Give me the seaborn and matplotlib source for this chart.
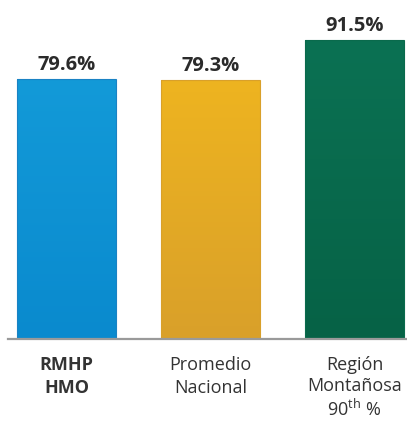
import numpy as np
import pandas as pd
import matplotlib
matplotlib.use("Agg")
import matplotlib.pyplot as plt
import seaborn as sns
from matplotlib.colors import LinearSegmentedColormap

categories = ["RMHP\nHMO", "Promedio\nNacional", "Región\nMontañosa\n90$^{\\mathrm{th}}$ %"]
values = [79.6, 79.3, 91.5]
value_labels = ["79.6%", "79.3%", "91.5%"]
top_colors = ["#139AD8", "#EEB420", "#0B7153"]
bottom_colors = ["#0A8ACE", "#D9A02A", "#066246"]
edge_colors = ["#1A82C4", "#D9A02A", "#0A6A4C"]

sns.set_style("white")
plt.rcParams["font.family"] = ["Open Sans", "DejaVu Sans"]
plt.rcParams["mathtext.fontset"] = "custom"
plt.rcParams["mathtext.rm"] = "Open Sans"
plt.rcParams["mathtext.it"] = "Open Sans:italic"
plt.rcParams["mathtext.bf"] = "Open Sans:bold"

df = pd.DataFrame({"cat": categories, "val": values})

fig = plt.figure(figsize=(4.07, 4.21), dpi=100)
ax = fig.add_axes([8 / 407, 82 / 421, 1 - 8 / 407, 1 - 82 / 421])

sns.barplot(data=df, x="cat", y="val", hue="cat", palette=top_colors,
            width=99 / 144, legend=False, ax=ax, linewidth=0.8)

bars = sorted([p for p in ax.patches], key=lambda p: p.get_x())
for p, tc, bc, ec, lab in zip(bars, top_colors, bottom_colors, edge_colors, value_labels):
    x0, w, h = p.get_x(), p.get_width(), p.get_height()
    cmap = LinearSegmentedColormap.from_list("g", [bc, tc])
    grad = np.linspace(0, 1, 256).reshape(-1, 1)
    im = ax.imshow(grad, cmap=cmap, aspect="auto", origin="lower",
                   extent=(x0, x0 + w, 0, h), zorder=p.get_zorder() + 0.1)
    im.set_clip_path(p)
    p.set_edgecolor(ec)
    p.set_facecolor("none")
    p.set_zorder(p.get_zorder() + 0.2)
    ax.annotate(lab, xy=(x0 + w / 2, h), xytext=(0, 6.5), textcoords="offset points",
                ha="center", va="baseline", fontsize=14.5, fontweight="bold",
                color="#2b2b2b")

ax.set_xlim(-0.406, 2.365)
ax.set_ylim(0, 103.7)
ax.set_xlabel("")
ax.set_ylabel("")
ax.set_yticks([])
for s in ["top", "left", "right"]:
    ax.spines[s].set_visible(False)
ax.spines["bottom"].set_color("#9a9a9a")
ax.spines["bottom"].set_linewidth(1.6)
ax.tick_params(axis="x", length=0, pad=12, labelsize=13, labelcolor="#333333")
for i, t in enumerate(ax.get_xticklabels()):
    t.set_linespacing(1.38 if i < 2 else 1.22)
    if i == 0:
        t.set_fontweight("bold")

fig.savefig("out.png", dpi=100)
